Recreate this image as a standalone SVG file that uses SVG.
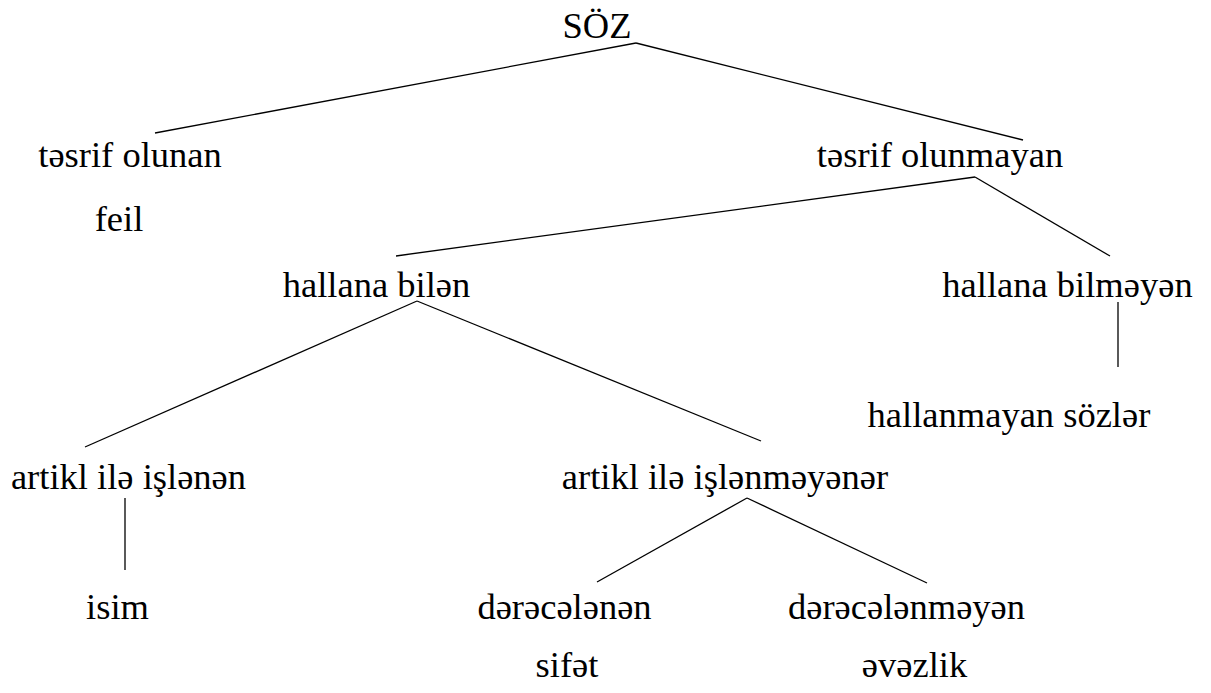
<svg xmlns="http://www.w3.org/2000/svg" width="1211" height="693" viewBox="0 0 1211 693">
<style>
text{font-family:"Liberation Serif","Times New Roman",serif;font-size:36.5px;fill:#000;text-anchor:middle}
.c line{stroke:#000;stroke-width:1.3;fill:none}
</style>
<rect width="1211" height="693" fill="#fff"/>
<g class="c" id="connectors">
<line x1="636" y1="43" x2="155" y2="133"/>
<line x1="636" y1="43" x2="1023" y2="140"/>
<line x1="975" y1="177" x2="396" y2="256"/>
<line x1="975" y1="177" x2="1110" y2="256"/>
<line x1="1118" y1="302" x2="1118" y2="367"/>
<line x1="417" y1="301" x2="85" y2="447"/>
<line x1="417" y1="301" x2="761" y2="441"/>
<line x1="125" y1="498" x2="125" y2="570"/>
<line x1="747" y1="498" x2="597" y2="582"/>
<line x1="747" y1="498" x2="927" y2="583"/>
</g>
<g id="n-soz"><text x="597" y="38">SÖZ</text></g>
<g id="n-tesrif-olunan"><text x="130" y="166.5">təsrif olunan</text></g>
<g id="n-feil"><text x="119" y="231">feil</text></g>
<g id="n-tesrif-olunmayan"><text x="940" y="166.5">təsrif olunmayan</text></g>
<g id="n-hallana-bilen"><text x="376.5" y="296.5">hallana bilən</text></g>
<g id="n-hallana-bilmeyen"><text x="1067.5" y="296.5">hallana bilməyən</text></g>
<g id="n-hallanmayan"><text x="1009" y="426.5">hallanmayan sözlər</text></g>
<g id="n-artikl-islenen"><text x="128.5" y="489">artikl ilə işlənən</text></g>
<g id="n-artikl-islenmeyen"><text x="725" y="489">artikl ilə işlənməyənər</text></g>
<g id="n-isim"><text x="117.5" y="618.5">isim</text></g>
<g id="n-derecelenen"><text x="564.5" y="619">dərəcələnən</text></g>
<g id="n-derecelenmeyen"><text x="906.5" y="619">dərəcələnməyən</text></g>
<g id="n-sifet"><text x="567" y="677">sifət</text></g>
<g id="n-evezlik"><text x="914.5" y="677">əvəzlik</text></g>
</svg>
